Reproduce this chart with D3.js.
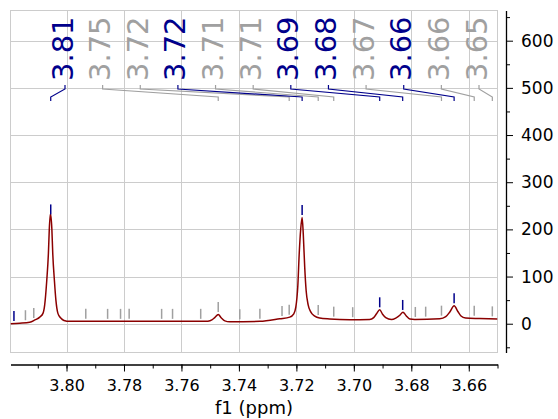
<!DOCTYPE html>
<html>
<head>
<meta charset="utf-8">
<script src="https://cdn.jsdelivr.net/npm/d3@7"></script>
<style>
  body { margin: 0; background: #fff; }
  text { font-family: "DejaVu Sans", Verdana, sans-serif; }
</style>
</head>
<body>
<div id="nmr-chart"></div>
<script>
// spectrum (ppm, intensity)
const spectrumPpm = [3.8195, 3.8163, 3.8128, 3.8110, 3.8093, 3.8082, 3.8076, 3.8069, 3.8063, 3.8060,
  3.8056, 3.8051, 3.8048, 3.8042, 3.8037, 3.8030, 3.8020, 3.8009, 3.7989, 3.7884,
  3.7710, 3.7536, 3.7508, 3.7494, 3.7484, 3.7472, 3.7461, 3.7449, 3.7432, 3.7327,
  3.7258, 3.7223, 3.7209, 3.7202, 3.7195, 3.7190, 3.7185, 3.7180, 3.7176, 3.7171,
  3.7166, 3.7159, 3.7150, 3.7136, 3.7119, 3.7084, 3.7014, 3.6945, 3.6931, 3.6921,
  3.6910, 3.6900, 3.6889, 3.6869, 3.6854, 3.6840, 3.6829, 3.6818, 3.6805, 3.6788,
  3.6701, 3.6680, 3.6666, 3.6651, 3.6638, 3.6628, 3.6611, 3.6562, 3.6500];
const spectrumIntensity = [0, 1, 3, 8, 14, 22, 40, 90, 150, 200,
  233, 200, 150, 90, 50, 22, 12, 7, 5, 5,
  5, 5, 5.5, 8, 13, 19.5, 12, 6, 4, 5,
  10.5, 14, 21, 35, 80, 150, 200, 225, 190, 120,
  70, 40, 25, 16, 12, 10, 8.5, 9, 13, 21,
  29.5, 20, 13, 9, 12, 18, 24.5, 17, 10, 9,
  10.5, 15, 25, 38, 26, 17, 12, 11, 10];

// peak labels on top, and the peak each one points to
const labelTexts = ["3.81", "3.75", "3.72", "3.72", "3.71", "3.71", "3.69", "3.68", "3.67", "3.66", "3.66", "3.65"];
const labelPeakPpm = [3.8055, 3.7472, 3.7225, 3.7180, 3.7124, 3.7070, 3.6910, 3.6830, 3.6695, 3.6651, 3.6581, 3.6518];
const labelIsMain = [true, false, false, true, false, false, true, true, false, true, false, false];

// small peak markers over the trace
const markerPpm = [3.8183, 3.8143, 3.8114, 3.8055, 3.7933, 3.7857, 3.7812, 3.7782, 3.7669, 3.7631,
  3.7533, 3.7472, 3.7397, 3.7327, 3.7250, 3.7225, 3.7180, 3.7124, 3.7070, 3.7004,
  3.6910, 3.6830, 3.6786, 3.6750, 3.6695, 3.6651, 3.6581, 3.6518];
const markerIsMain = [true, false, false, true, false, false, false, false, false, false,
  false, false, false, false, false, false, true, false, false, false,
  true, true, false, false, false, true, false, false];

const xTicks = [3.80, 3.78, 3.76, 3.74, 3.72, 3.70, 3.68, 3.66];
const yTicks = [0, 100, 200, 300, 400, 500, 600];
const xAxisLabel = "f1 (ppm)";

const width = 558;
const height = 419;
const plot = {left: 10.5, right: 497.5, top: 10.5, bottom: 352.5};
const navy = "#00008b";
const grey = "#a0a0a0";
const gridColor = "#cccccc";

const xScale = d3.scaleLinear().domain([3.8195, 3.6500]).range([plot.left, plot.right]);
const yScale = d3.scaleLinear().domain([-61, 664]).range([plot.bottom, plot.top]);

const spectrum = spectrumPpm.map((p, i) => ({ppm: p, value: spectrumIntensity[i]}));

// intensity of the trace at a given ppm, used only to sit the markers on it
function traceAt(ppm) {
  for (let i = 0; i < spectrum.length - 1; i++) {
    const a = spectrum[i], b = spectrum[i + 1];
    if (ppm <= a.ppm && ppm >= b.ppm) {
      const t = (a.ppm - ppm) / (a.ppm - b.ppm);
      return a.value + t * (b.value - a.value);
    }
  }
  return 0;
}

const svg = d3.select("#nmr-chart")
  .append("svg")
  .attr("width", width)
  .attr("height", height);

svg.append("clipPath").attr("id", "plot-clip")
  .append("rect")
  .attr("x", plot.left).attr("y", plot.top)
  .attr("width", plot.right - plot.left).attr("height", plot.bottom - plot.top);

// grid
svg.append("g").selectAll("line.vgrid")
  .data(xTicks).join("line")
  .attr("x1", d => Math.round(xScale(d)) + 0.5).attr("x2", d => Math.round(xScale(d)) + 0.5)
  .attr("y1", plot.top).attr("y2", plot.bottom)
  .attr("stroke", gridColor);

svg.append("g").selectAll("line.hgrid")
  .data(yTicks).join("line")
  .attr("x1", plot.left).attr("x2", plot.right)
  .attr("y1", d => Math.round(yScale(d)) + 0.5).attr("y2", d => Math.round(yScale(d)) + 0.5)
  .attr("stroke", gridColor);

svg.append("rect")
  .attr("x", plot.left).attr("y", plot.top)
  .attr("width", plot.right - plot.left).attr("height", plot.bottom - plot.top)
  .attr("fill", "none")
  .attr("stroke", gridColor);

// spectrum trace
svg.append("path")
  .datum(spectrum)
  .attr("clip-path", "url(#plot-clip)")
  .attr("fill", "none")
  .attr("stroke", "#8b0000")
  .attr("stroke-width", 1.5)
  .attr("d", d3.line()
    .x(d => xScale(d.ppm))
    .y(d => yScale(d.value))
    .curve(d3.curveMonotoneX));

// peak markers
svg.append("g").selectAll("line")
  .data(markerPpm).join("line")
  .attr("x1", d => xScale(d)).attr("x2", d => xScale(d))
  .attr("y1", d => yScale(traceAt(d)) - 2.5)
  .attr("y2", d => yScale(traceAt(d)) - 12.5)
  .attr("stroke", (d, i) => markerIsMain[i] ? navy : grey)
  .attr("stroke-width", 1.5);

// peak labels with their connectors
const labelX = d3.scalePoint().domain(d3.range(labelTexts.length)).range([65, 479]);

const labels = svg.append("g").selectAll("g")
  .data(labelTexts).join("g");

labels.append("path")
  .attr("fill", "none")
  .attr("stroke", (d, i) => labelIsMain[i] ? navy : grey)
  .attr("stroke-width", 1.2)
  .attr("d", (d, i) => {
    const lx = labelX(i);
    const px = xScale(labelPeakPpm[i]);
    return `M${lx},85 V89 L${px},97 V101`;
  });

labels.append("text")
  .attr("transform", (d, i) => `translate(${labelX(i) + 7.5}, 81) rotate(-90)`)
  .attr("text-anchor", "start")
  .attr("font-size", "29px")
  .attr("fill", (d, i) => labelIsMain[i] ? navy : grey)
  .text(d => d);

// right y axis
const yAxisX = 506;
svg.append("g")
  .attr("transform", `translate(${yAxisX}, 0)`)
  .call(d3.axisRight(yScale).tickValues(d3.range(-50, 700, 100)).tickSize(4).tickSizeOuter(0).tickFormat(""))
  .call(g => g.select(".domain").remove());

const yAxisWithG = svg.append("g")
  .attr("transform", `translate(${yAxisX}, 0)`)
  .call(d3.axisRight(yScale).tickValues(yTicks).tickSize(7).tickSizeOuter(0).tickPadding(8));
yAxisWithG.selectAll("text").attr("font-size", "17px").attr("font-family", "DejaVu Sans");
yAxisWithG.select(".domain").attr("stroke-width", 1.3);

// bottom x axis
const xAxisY = 364.5;
svg.append("g")
  .attr("transform", `translate(0, ${xAxisY})`)
  .call(d3.axisBottom(xScale).tickValues(d3.range(3.81, 3.645, -0.01)).tickSize(4).tickSizeOuter(0).tickFormat(""))
  .call(g => g.select(".domain").remove());

const xAxisWithG = svg.append("g")
  .attr("transform", `translate(0, ${xAxisY})`)
  .call(d3.axisBottom(xScale).tickValues(xTicks).tickSize(7).tickSizeOuter(0).tickPadding(8).tickFormat(d3.format(".2f")));
xAxisWithG.selectAll("text").attr("font-size", "16px").attr("font-family", "DejaVu Sans");
xAxisWithG.select(".domain").attr("stroke-width", 1.3);

svg.append("text")
  .attr("x", (plot.left + plot.right) / 2)
  .attr("y", 414)
  .attr("text-anchor", "middle")
  .attr("font-size", "18px")
  .attr("fill", "#000")
  .text(xAxisLabel);
</script>
</body>
</html>
